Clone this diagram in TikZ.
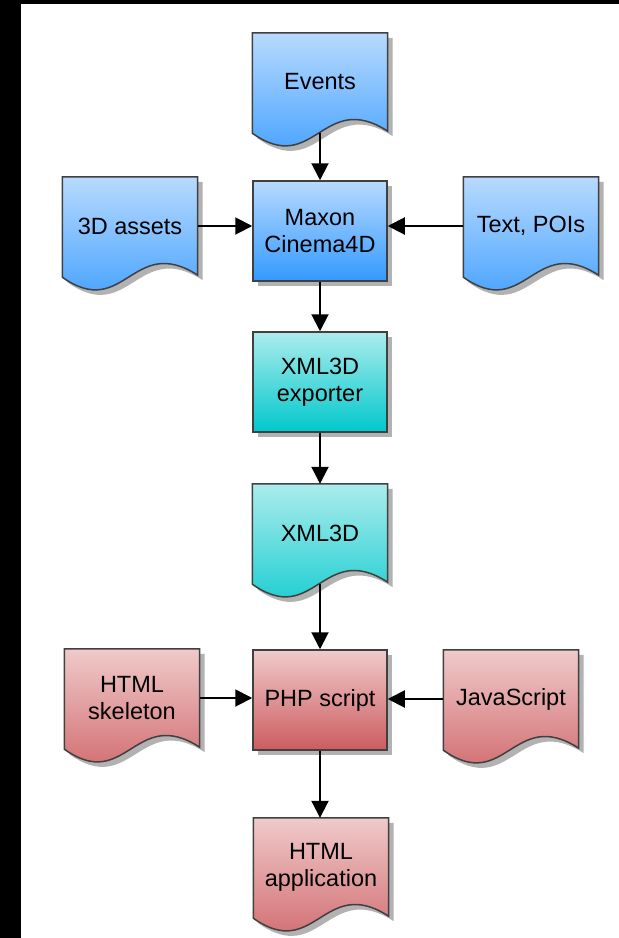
\documentclass[tikz,border=0pt]{standalone}
\usepackage{fontspec}
\setmainfont{Liberation Sans}
\usepackage{tikz}
\usetikzlibrary{shapes,arrows.meta,positioning,shadows}
\usepackage{xcolor}

\definecolor{blueTop}{RGB}{184,218,255}
\definecolor{blueBot}{RGB}{51,153,255}
\definecolor{tealTop}{RGB}{172,236,236}
\definecolor{tealBot}{RGB}{0,200,204}
\definecolor{redTop}{RGB}{240,202,202}
\definecolor{redBot}{RGB}{204,92,96}
\definecolor{edge}{RGB}{64,64,64}

\pgfdeclarelayer{backdrop}
\pgfdeclarelayer{background}
\pgfsetlayers{backdrop,background,main}

\begin{document}
\begin{tikzpicture}[x=1pt,y=-1pt,font=\fontsize{23.5}{27}\selectfont]
\tikzstyle{bluefill}=[top color=blueTop, bottom color=blueBot]
\tikzstyle{tealfill}=[top color=tealTop, bottom color=tealBot]
\tikzstyle{redfill}=[top color=redTop, bottom color=redBot]
\tikzstyle{shadowed}=[drop shadow={shadow xshift=5pt, shadow yshift=-5pt, fill=black!30, opacity=1}]
\tikzstyle{proc}=[rectangle, draw=edge, line width=1.5pt, minimum width=134, minimum height=100, align=center, shadowed]
\tikzstyle{docu}=[rectangle, minimum width=135, minimum height=98, align=center]
\tikzstyle{docline}=[draw=edge, line width=1.5pt, shadowed]
\tikzstyle{flow}=[line width=2pt, -{Triangle[length=17pt,width=17pt]}]

\useasboundingbox (0,0) rectangle (619,938);
\begin{pgfonlayer}{backdrop}
\fill[black] (0,0) rectangle (619,938);
\fill[white] (21,4) rectangle (619,938);
\end{pgfonlayer}

\node[docu] (events) at (320,82) {Events};
\node[proc,bluefill] (maxon) at (320,231) {Maxon\\Cinema4D};
\node[docu] (assets) at (130,226) {3D assets};
\node[docu] (pois) at (531,226) {Text, POIs};

\node[proc,tealfill] (exporter) at (320,382) {XML3D\\exporter};
\node[docu] (xmlfile) at (320,533) {XML3D};

\node[proc,redfill] (php) at (320,700) {PHP script};
\node[docu] (skeleton) at (132,698) {HTML\\skeleton};
\node[docu] (js) at (511,699) {JavaScript};
\node[docu] (app) at (321,867) {HTML\\application};

% document outlines with the wavy bottom
\begin{pgfonlayer}{background}
\foreach \n in {events,assets,pois}
  \draw[docline,bluefill] (\n.north west) -- (\n.north east) -- (\n.south east)
    .. controls ([shift={(-65,-42)}]\n.south east) and ([shift={(62,46)}]\n.south west) .. ([shift={(0,2)}]\n.south west) -- cycle;
\foreach \n in {xmlfile}
  \draw[docline,tealfill] (\n.north west) -- (\n.north east) -- (\n.south east)
    .. controls ([shift={(-65,-42)}]\n.south east) and ([shift={(62,46)}]\n.south west) .. ([shift={(0,2)}]\n.south west) -- cycle;
\foreach \n in {skeleton,js,app}
  \draw[docline,redfill] (\n.north west) -- (\n.north east) -- (\n.south east)
    .. controls ([shift={(-65,-42)}]\n.south east) and ([shift={(62,46)}]\n.south west) .. ([shift={(0,2)}]\n.south west) -- cycle;
\end{pgfonlayer}

\draw[flow] ([yshift=-2pt]events.south) -- (maxon);
\draw[flow] (assets.east) -- (assets.east -| maxon.west);
\draw[flow] (pois.west) -- (pois.west -| maxon.east);
\draw[flow] (maxon) -- (exporter);
\draw[flow] (exporter) -- (xmlfile);
\draw[flow] ([yshift=-2pt]xmlfile.south) -- (php);
\draw[flow] (skeleton.east) -- (skeleton.east -| php.west);
\draw[flow] (js.west) -- (js.west -| php.east);
\draw[flow] (php.south) -- (php.south |- app.north);
\end{tikzpicture}
\end{document}
